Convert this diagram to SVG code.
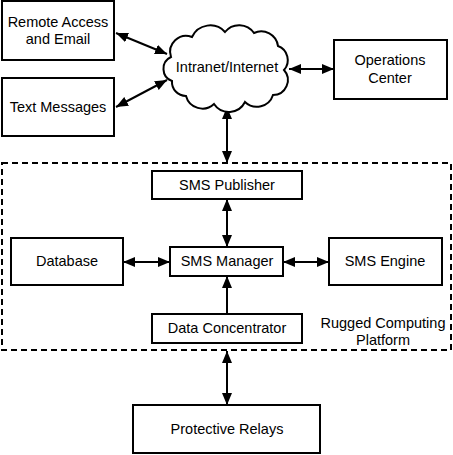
<svg xmlns="http://www.w3.org/2000/svg" width="453" height="455" viewBox="0 0 453 455">
<defs>
<style>
.box{fill:#fff;stroke:#000;stroke-width:2}
.t{font-family:"Liberation Sans",Arial,sans-serif;font-size:14.5px;fill:#000;text-anchor:middle;dominant-baseline:central}
.c{stroke:#000;stroke-width:2;fill:none}
</style>
<marker id="arr" viewBox="0 0 12 10" refX="12" refY="5" markerWidth="12" markerHeight="10" markerUnits="userSpaceOnUse" orient="auto-start-reverse">
<path d="M0,0 L12,5 L0,10 z" fill="#000"/>
</marker>
</defs>
<rect width="453" height="455" fill="#fff"/>
<g id="platform">
<rect x="2" y="163" width="449" height="187" fill="none" stroke="#000" stroke-width="2" stroke-dasharray="6,4"/>
<text class="t" x="383" y="323">Rugged Computing</text>
<text class="t" x="383" y="340">Platform</text>
</g>
<g id="connectors">
<line class="c" x1="116" y1="33" x2="167" y2="54" marker-start="url(#arr)" marker-end="url(#arr)"/>
<line class="c" x1="116" y1="107" x2="167" y2="80" marker-start="url(#arr)" marker-end="url(#arr)"/>
<line class="c" x1="289" y1="69" x2="334" y2="69" marker-start="url(#arr)" marker-end="url(#arr)"/>
<line class="c" x1="227" y1="107" x2="227" y2="163" marker-start="url(#arr)" marker-end="url(#arr)"/>
<line class="c" x1="227" y1="199" x2="227" y2="247" marker-start="url(#arr)" marker-end="url(#arr)"/>
<line class="c" x1="123" y1="262" x2="170" y2="262" marker-start="url(#arr)" marker-end="url(#arr)"/>
<line class="c" x1="283" y1="262" x2="329" y2="262" marker-start="url(#arr)" marker-end="url(#arr)"/>
<line class="c" x1="227" y1="314" x2="227" y2="276" marker-end="url(#arr)"/>
<line class="c" x1="227" y1="351" x2="227" y2="405" marker-start="url(#arr)" marker-end="url(#arr)"/>
</g>
<g id="remote">
<rect class="box" x="2" y="1" width="112" height="59"/>
<text class="t" x="58" y="22">Remote Access</text>
<text class="t" x="58" y="39">and Email</text>
</g>
<g id="textmsg">
<rect class="box" x="2" y="78" width="112" height="58"/>
<text class="t" x="58" y="107">Text Messages</text>
</g>
<g id="cloud">
<path class="box" d="M171,57 A16,16 0 0 1 192,37 A20,20 0 0 1 225,32 A18,18 0 0 1 254,33 A17,17 0 0 1 278,46 A15,15 0 0 1 284,70 A15,15 0 0 1 273,95 A17,17 0 0 1 245,102 A18,18 0 0 1 214,104 A17,17 0 0 1 186,96 A14,14 0 0 1 172,81 A13,13 0 0 1 171,57 Z"/>
<text class="t" x="227" y="67">Intranet/Internet</text>
</g>
<g id="operations">
<rect class="box" x="334" y="40" width="113" height="59"/>
<text class="t" x="390" y="60">Operations</text>
<text class="t" x="390" y="78">Center</text>
</g>
<g id="publisher">
<rect class="box" x="152" y="171" width="150" height="28"/>
<text class="t" x="227" y="185">SMS Publisher</text>
</g>
<g id="database">
<rect class="box" x="11" y="238" width="112" height="47"/>
<text class="t" x="67" y="261">Database</text>
</g>
<g id="manager">
<rect class="box" x="170" y="247" width="113" height="29"/>
<text class="t" x="227" y="261">SMS Manager</text>
</g>
<g id="engine">
<rect class="box" x="329" y="238" width="113" height="47"/>
<text class="t" x="385" y="261">SMS Engine</text>
</g>
<g id="concentrator">
<rect class="box" x="152" y="314" width="150" height="29"/>
<text class="t" x="227" y="328">Data Concentrator</text>
</g>
<g id="relays">
<rect class="box" x="133" y="405" width="187" height="48"/>
<text class="t" x="227" y="429">Protective Relays</text>
</g>
</svg>
